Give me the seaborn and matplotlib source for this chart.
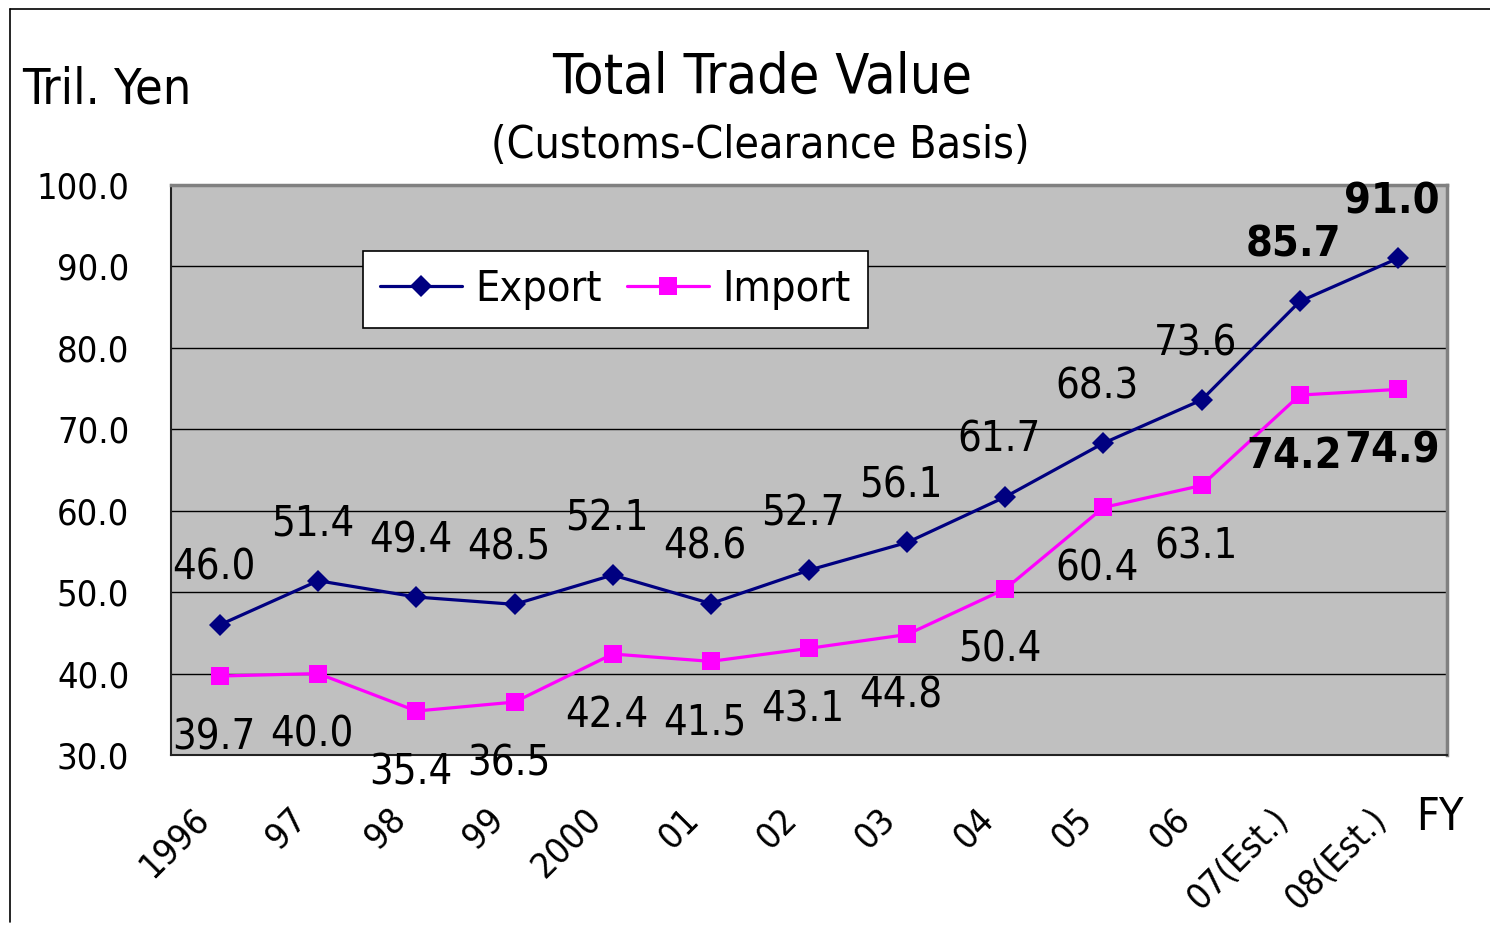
import numpy as np
import pandas as pd
import matplotlib
matplotlib.use("Agg")
import matplotlib.pyplot as plt
import seaborn as sns
from matplotlib.transforms import ScaledTranslation
from matplotlib.lines import Line2D

years = ["1996", "97", "98", "99", "2000", "01", "02", "03", "04", "05", "06", "07(Est.)", "08(Est.)"]
export_vals = [46.0, 51.4, 49.4, 48.5, 52.1, 48.6, 52.7, 56.1, 61.7, 68.3, 73.6, 85.7, 91.0]
import_vals = [39.7, 40.0, 35.4, 36.5, 42.4, 41.5, 43.1, 44.8, 50.4, 60.4, 63.1, 74.2, 74.9]
bold_from = 11  # estimated years shown in bold labels

sns.set_theme(style="white")
plt.rcParams["font.family"] = ["DejaVu Sans"]
plt.rcParams["font.stretch"] = "condensed"
plt.rcParams["text.color"] = "#000000"
plt.rcParams["xtick.color"] = "#000000"
plt.rcParams["ytick.color"] = "#000000"
plt.rcParams["xtick.labelcolor"] = "#000000"
plt.rcParams["ytick.labelcolor"] = "#000000"

W, H = 1490, 925
fig = plt.figure(figsize=(W / 100, H / 100), dpi=100)
ax = fig.add_axes([171 / W, 1 - 755 / H, (1447 - 171) / W, (755 - 185) / H])
ax.set_facecolor("#C0C0C0")

pos = np.arange(len(years))
df = pd.DataFrame({
    "pos": np.concatenate([pos, pos]),
    "value": export_vals + import_vals,
    "series": ["Export"] * len(years) + ["Import"] * len(years),
})
palette = {"Export": "#000080", "Import": "#FF00FF"}
sns.lineplot(data=df, x="pos", y="value", hue="series", style="series",
             markers={"Export": "D", "Import": "s"}, dashes=False,
             palette=palette, linewidth=2.3, markersize=10,
             markeredgewidth=0, ax=ax, legend=True)
for ln in ax.get_lines():
    if ln.get_marker() == "s":
        ln.set_markersize(12.5)
    elif ln.get_marker() == "D":
        ln.set_markersize(11)

ax.set_xlim(-0.5, len(years) - 0.5)
ax.set_ylim(30, 100)
ax.set_yticks(np.arange(30, 101, 10))
ax.set_yticklabels([f"{v:.1f}" for v in np.arange(30, 101, 10)], fontsize=26)
ax.yaxis.grid(True, color="#000000", linewidth=1.0)
ax.set_axisbelow(True)
ax.tick_params(axis="y", length=0, pad=30)

ax.set_xticks(pos)
ax.set_xticklabels(years, fontsize=26, rotation=45, ha="right", va="center",
                   rotation_mode="anchor")
ax.set_xticks(np.arange(-0.5, len(years), 1), minor=True)
ax.tick_params(axis="x", which="major", length=0, pad=42)
ax.tick_params(axis="x", which="minor", length=9, direction="in", width=1, color="#333333")
for lbl in ax.get_xticklabels():
    lbl.set_transform(lbl.get_transform() + ScaledTranslation(-0.17, 0, fig.dpi_scale_trans))
ax.set_xlabel("")
ax.set_ylabel("")

for side in ["top", "right"]:
    ax.spines[side].set_color("#808080")
    ax.spines[side].set_linewidth(2.5)
for side in ["left", "bottom"]:
    ax.spines[side].set_color("#222222")
    ax.spines[side].set_linewidth(1.5)

for i, (e, im) in enumerate(zip(export_vals, import_vals)):
    bold = i >= bold_from
    w = "bold" if bold else "normal"
    fs = 31 if bold else 30
    ax.annotate(f"{e:.1f}", (i, e), xytext=(-4.3, 41), textcoords="offset points",
                ha="center", va="center", fontsize=fs, fontweight=w, annotation_clip=False)
    ax.annotate(f"{im:.1f}", (i, im), xytext=(-4.3, -44), textcoords="offset points",
                ha="center", va="center", fontsize=fs, fontweight=w, annotation_clip=False)

handles, labels = ax.get_legend_handles_labels()
leg = ax.legend(handles, labels, loc="upper left", bbox_to_anchor=(0.1505, 0.884),
                borderaxespad=0, ncol=2, fontsize=31, frameon=True, fancybox=False,
                framealpha=1, edgecolor="#000000", handlelength=1.9,
                handletextpad=0.3, columnspacing=0.6, borderpad=0.4)
leg.get_frame().set_linewidth(1.2)

fig.text(762 / W, 1 - 78 / H, "Total Trade Value", ha="center", va="center", fontsize=40)
fig.text(760 / W, 1 - 145 / H, "(Customs-Clearance Basis)", ha="center", va="center", fontsize=32)
fig.text(22 / W, 1 - 90 / H, "Tril. Yen", ha="left", va="center", fontsize=36)
fig.text(1440 / W, 1 - 818 / H, "FY", ha="center", va="center", fontsize=32)

fig.add_artist(Line2D([10 / W, 10 / W], [1 - 922 / H, 1 - 9 / H], transform=fig.transFigure,
                      color="#000000", linewidth=1.2))
fig.add_artist(Line2D([10 / W, 1.0], [1 - 9 / H, 1 - 9 / H], transform=fig.transFigure,
                      color="#000000", linewidth=1.2))

fig.savefig("out.png", dpi=100)
